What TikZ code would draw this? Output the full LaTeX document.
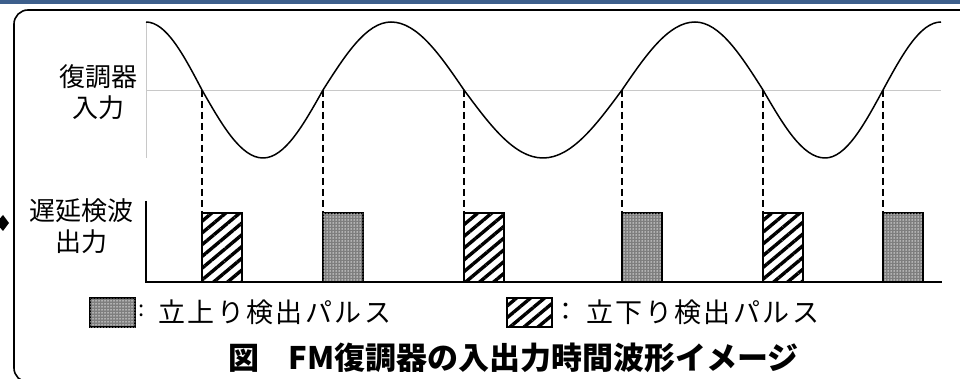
\documentclass[tikz,border=0pt]{standalone}
\usepackage{fontspec}
\setmainfont{Noto Sans CJK JP}
\usetikzlibrary{patterns.meta}
\definecolor{banner}{HTML}{3D5F8C}
\definecolor{axisgray}{HTML}{C8C8C8}
\definecolor{dotgray}{HTML}{7E7E7E}
\tikzset{
  wave/.style={line width=1.5pt, line join=round},
  guide/.style={axisgray, line width=0.9pt},
  axisline/.style={black, line width=1.4pt},
  dropline/.style={black, line width=1.9pt, dash pattern=on 7pt off 4pt},
  hatchbox/.style={draw=black, line width=1.6pt, inner sep=0pt, outer sep=0pt,
    pattern={Lines[angle=40, distance=9pt, line width=3.4pt]}},
  dotbox/.style={draw=black, line width=1.6pt, inner sep=0pt, outer sep=0pt, fill=dotgray,
    postaction={pattern={Dots[distance=3pt, radius=0.75pt]}, pattern color=white!85!gray}},
  pulse/.style={minimum width=40pt, minimum height=69pt, anchor=south west},
  legendbox/.style={minimum width=45pt, minimum height=29pt, anchor=north west},
  lab/.style={font=\fontsize{26}{31}\selectfont, align=center, inner sep=0pt},
  legtext/.style={font=\fontsize{27}{32}\selectfont\addfontfeature{LetterSpace=9}, anchor=west, inner sep=0pt},
}
\begin{document}
\begin{tikzpicture}[x=1pt, y=-1pt]
\useasboundingbox (0,0) rectangle (960,379);
\clip (0,0) rectangle (960,379);
% banner and frame
\fill[banner] (0,0) rectangle (960,4.5);
\draw[line width=1.6pt, rounded corners=14pt] (990,10) -- (14,10) -- (14,382) -- (120,382);
\fill (-4,223) -- (3,215) -- (9,223) -- (3,231) -- cycle;
% guides
\draw[guide] (146,22) -- (146,158);
\draw[guide] (146,90) -- (941,90);
% wave
\draw[wave] (146,22) cos (202,90) sin (263,158) cos (323,90) sin (391,22)
  cos (464,90) sin (543,158) cos (622,90) sin (695,22) cos (763,90)
  sin (825,158) cos (883,90) sin (941,22);
% crossing coordinates
\coordinate (c1) at (202,90);
\coordinate (c2) at (323,90);
\coordinate (c3) at (464,90);
\coordinate (c4) at (622,90);
\coordinate (c5) at (763,90);
\coordinate (c6) at (883,90);
% lower axes
\coordinate (ya) at (146,201);
\coordinate (yo) at (146,282);
\coordinate (xe) at (942,282);
% pulses
\node[hatchbox, pulse] (p1) at (202,282) {};
\node[dotbox, pulse] (p2) at (323,282) {};
\node[hatchbox, pulse] (p3) at (464,282) {};
\node[dotbox, pulse] (p4) at (622,282) {};
\node[hatchbox, pulse] (p5) at (763,282) {};
\node[dotbox, pulse] (p6) at (883,282) {};
\foreach \i in {1,...,6} {\draw[dropline] (c\i) -- (p\i.north west);}
\draw[axisline] (ya) -- (yo) -- (xe);
% labels
\node[lab] (lin) at (98,92) {復調器\\入力};
\node[lab] (lout) at (81,226) {遅延検波\\出力};
% legend
\node[dotbox, legendbox] (lg1) at (90,298) {};
\node[font=\fontsize{22}{26}\selectfont, anchor=west, inner sep=0pt] (col1) at (138,311) {:};
\node[legtext] (lt1) at (158,312) {立上り検出パルス};
\node[hatchbox, legendbox] (lg2) at (507,298) {};
\node[font=\fontsize{25}{30}\selectfont, anchor=west, inner sep=0pt] (col2) at (553,312) {：};
\node[legtext] (lt2) at (586,312) {立下り検出パルス};
% title
\node[font=\fontsize{31}{36}\bfseries\selectfont, anchor=west, inner sep=0pt] (title) at (228,358) {図\hspace{0.95em}FM復調器の入出力時間波形イメージ};
\end{tikzpicture}
\end{document}
